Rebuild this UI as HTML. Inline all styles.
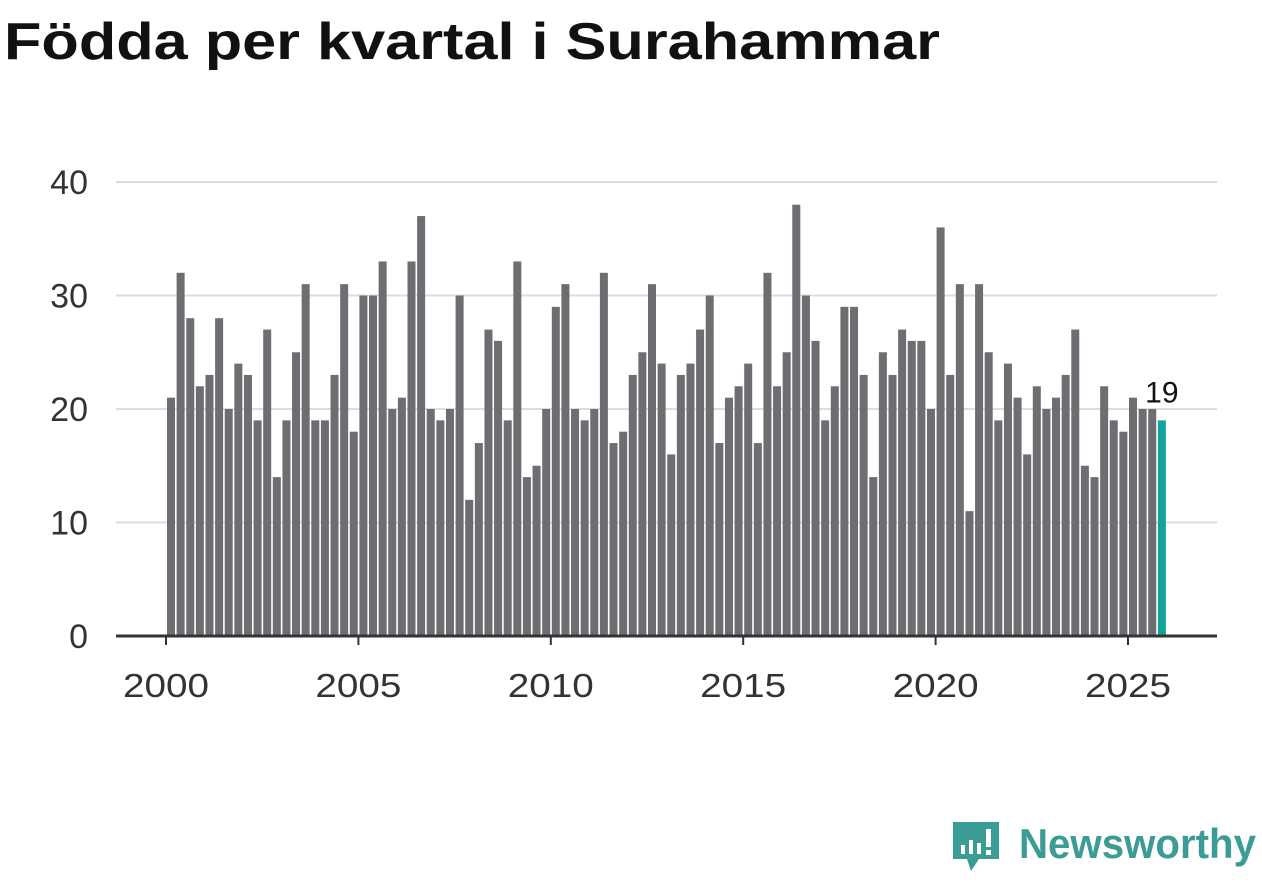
<!DOCTYPE html>
<html><head><meta charset="utf-8"><style>
body{margin:0;background:#fff;width:1262px;height:879px;overflow:hidden;font-family:"Liberation Sans",sans-serif}
svg text{font-family:"Liberation Sans",sans-serif}
</style></head><body>
<svg id="chart" width="1262" height="879" xmlns="http://www.w3.org/2000/svg">
<text x="4" y="59" font-size="52" font-weight="bold" fill="#111" textLength="936" lengthAdjust="spacingAndGlyphs">Födda per kvartal i Surahammar</text>
<g id="grid"></g><g id="bars"></g><g id="axes"></g>
<g>
<path d="M953 822 h46 v37 h-20 l-8 12 l-4 -12 h-14 z" fill="#3a9c94"/>
<rect x="961" y="845" width="4" height="9" fill="#fff"/><rect x="969" y="840" width="4" height="14" fill="#fff"/><rect x="977" y="843" width="4" height="11" fill="#fff"/><rect x="986" y="829" width="5" height="18" fill="#fff"/><rect x="986" y="850" width="5" height="5" fill="#fff"/>
<text x="1019" y="858" font-size="42" font-weight="bold" fill="#3a9c94" textLength="237" lengthAdjust="spacingAndGlyphs">Newsworthy</text>
</g>
</svg>
<script>
const years=[2000,2005,2010,2015,2020,2025];
const yTicks=[0,10,20,30,40];
const values=[21,32,28,22,23,28,20,24,23,19,27,14,19,25,31,19,19,23,31,18,30,30,33,20,21,33,37,20,19,20,30,12,17,27,26,19,33,14,15,20,29,31,20,19,20,32,17,18,23,25,31,24,16,23,24,27,30,17,21,22,24,17,32,22,25,38,30,26,19,22,29,29,23,14,25,23,27,26,26,20,36,23,31,11,31,25,19,24,21,16,22,20,21,23,27,15,14,22,19,18,21,20,20,19];
const startYear=2000;
const NS="http://www.w3.org/2000/svg";
const x=t=>166+(t-2000)*38.48;
const y=v=>636-v*11.35;
function mk(tag,attrs,parent,txt){const e=document.createElementNS(NS,tag);for(const k in attrs)e.setAttribute(k,attrs[k]);if(txt!==undefined)e.textContent=txt;parent.appendChild(e);return e;}
const grid=document.getElementById('grid'),bars=document.getElementById('bars'),axes=document.getElementById('axes');
yTicks.forEach(v=>{
 if(v>0){const l=mk('line',{x1:116,x2:1217,y1:y(v),y2:y(v),stroke:'#ddd','stroke-width':2},grid);
 
 }
 const t=mk('text',{x:88,y:y(v)+12,'font-size':34,fill:'#333','text-anchor':'end'},axes,String(v));
 
 
});
values.forEach((v,i)=>{
 const t=startYear+i/4;
 const last=i===values.length-1;
 const r=mk('rect',{x:x(t)+1,y:y(v),width:8,height:y(0)-y(v),fill:last?'#14a39a':'#6d6d72'},bars);
 
 
 if(last){const lb=mk('text',{x:x(t)+5,y:y(v)-18,'font-size':30,fill:'#111','text-anchor':'middle'},bars,String(v));
 
 }
});
const ax=mk('line',{x1:116,x2:1217,y1:636,y2:636,stroke:'#333','stroke-width':3},axes);


years.forEach(yr=>{
 mk('line',{x1:x(yr),x2:x(yr),y1:636,y2:645,stroke:'#333','stroke-width':2},axes);
 const t=mk('text',{x:x(yr),y:697,'font-size':33,fill:'#333','text-anchor':'middle',textLength:86,lengthAdjust:'spacingAndGlyphs'},axes,String(yr));
 
 
});
</script>
</body></html>
